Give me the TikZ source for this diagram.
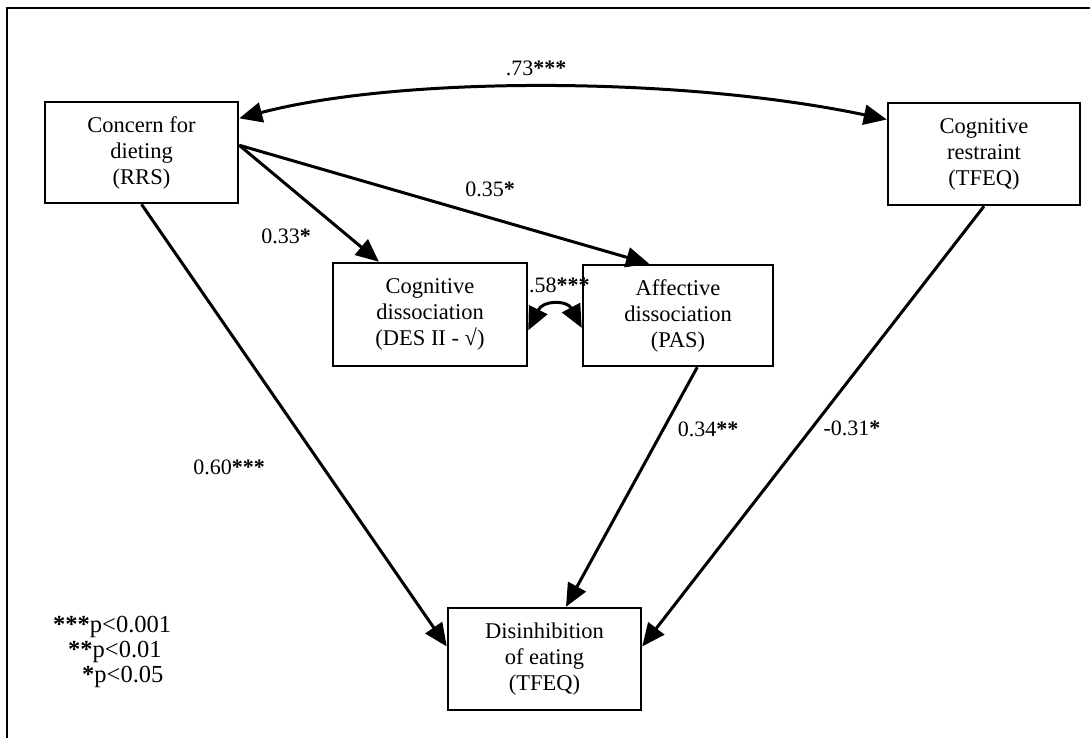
\documentclass[tikz,border=0pt]{standalone}
\usepackage{fontspec}
\setmainfont{Liberation Serif}
\usetikzlibrary{arrows.meta,calc}

% heavier significance star
\newcommand\sigstar{{\bfseries *}}

\begin{document}
\begin{tikzpicture}[x=1pt,y=-1pt,
  box/.style={draw,line width=2.5pt,inner sep=0pt,align=center,
    font=\fontsize{22.5}{26}\selectfont},
  coef/.style={font=\fontsize{22}{26}\selectfont,inner sep=0pt},
  legend/.style={font=\fontsize{24.5}{26}\selectfont,inner sep=0pt,anchor=west},
  path/.style={line width=3pt,-{Triangle[length=23pt,width=20pt]}},
  corr/.style={line width=3pt,{Triangle[length=23pt,width=20pt]}-{Triangle[length=23pt,width=20pt]}}
]
\useasboundingbox (0,0) rectangle (1090,738);

% outer frame (runs off the page on the right and bottom)
\draw[line width=2.2pt] (7,8) rectangle (1110,760);

% variables
\node[box,minimum width=193pt,minimum height=101pt] (rrs) at (141.5,152.5)
  {Concern for\\dieting\\(RRS)};
\node[box,minimum width=192pt,minimum height=102pt] (tfeqr) at (984,154)
  {Cognitive\\restraint\\(TFEQ)};
\node[box,minimum width=194pt,minimum height=103pt] (des) at (430,314.5)
  {Cognitive\\dissociation\\(DES II - \symbol{"221A})};
\node[box,minimum width=190pt,minimum height=101pt] (pas) at (678,315.5)
  {Affective\\dissociation\\(PAS)};
\node[box,minimum width=193pt,minimum height=102pt] (dis) at (544.5,659)
  {Disinhibition\\of eating\\(TFEQ)};

% attachment points
\coordinate (rrsA) at ($(rrs.north east)!0.17!(rrs.south east)$);
\coordinate (rrsB) at ($(rrs.north east)!0.43!(rrs.south east)$);
\coordinate (tfeqrA) at ($(tfeqr.north west)!0.17!(tfeqr.south west)$);
\coordinate (desT) at ($(des.north west)!0.24!(des.north east)$);
\coordinate (desE) at ($(des.north east)!0.65!(des.south east)$);
\coordinate (pasT) at ($(pas.north west)!0.35!(pas.north east)$);
\coordinate (pasW) at ($(pas.north west)!0.62!(pas.south west)$);
\coordinate (pasB) at ($(pas.south west)!0.60!(pas.south east)$);
\coordinate (disW) at ($(dis.north west)!0.38!(dis.south west)$);
\coordinate (disE) at ($(dis.north east)!0.38!(dis.south east)$);
\coordinate (disT) at ($(dis.north west)!0.61!(dis.north east)$);

% correlations
\draw[corr] (rrsA) .. controls (400,76) and (680,76) .. (tfeqrA);
\draw[corr] (desE) .. controls (543,300) and (567,300) .. (pasW);

% paths
\draw[path] (rrsB) -- (desT);
\draw[path] (rrsB) -- (pasT);
\draw[path] (rrs.south) -- (disW);
\draw[path] (pasB) -- (disT);
\draw[path] (tfeqr.south) -- (disE);

% coefficients
\node[coef] (c73) at (536,68) {.73\sigstar\sigstar\sigstar};
\node[coef] (c33) at (286,236) {0.33\sigstar};
\node[coef] (c35) at (490,189) {0.35\sigstar};
\node[coef,anchor=west] (c58) at (529,285) {.58\sigstar\sigstar\sigstar};
\node[coef] (c60) at (229,467) {0.60\sigstar\sigstar\sigstar};
\node[coef] (c34) at (708,429) {0.34\sigstar\sigstar};
\node[coef] (c31) at (852,428) {-0.31\sigstar};

% significance levels
\node[legend] (l1) at (53,627) {\sigstar\sigstar\sigstar p<0.001};
\node[legend] (l2) at (68,652) {\sigstar\sigstar p<0.01};
\node[legend] (l3) at (82,677) {\sigstar p<0.05};
\end{tikzpicture}
\end{document}
